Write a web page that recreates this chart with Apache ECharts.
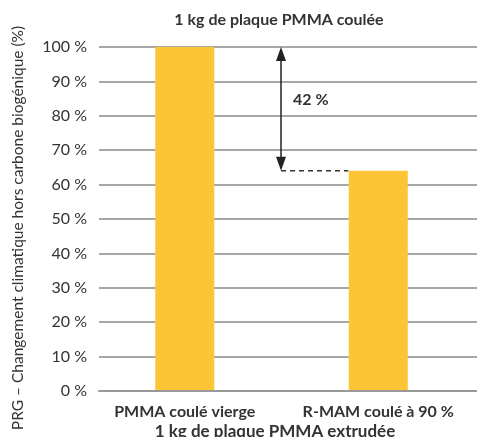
<!DOCTYPE html>
<html><head><meta charset="utf-8">
<script src="https://cdn.jsdelivr.net/npm/echarts@6/dist/echarts.min.js"></script>
<style>html,body{margin:0;padding:0;background:#fff}#c{width:477px;height:437px}</style>
</head><body><div id="c"></div>
<script>
const categories = ['PMMA coulé vierge', 'R-MAM coulé à 90 %'];
const values = [100, 64];
const tickValues = [0,10,20,30,40,50,60,70,80,90,100];
const diffLabel = '42 %';
const titleText = '1 kg de plaque PMMA coulée';
const bottomText = '1 kg de plaque PMMA extrudée';
const yName = 'PRG – Changement climatique hors carbone biogénique (%)';

const FONT = 'Lato';
const TXT = '#333333';
const chart = echarts.init(document.getElementById('c'), null, {renderer:'canvas'});
const gTop = 47, gBottom = 46;
chart.setOption({
  animation:false,
  textStyle:{fontFamily:FONT},
  title:{text:titleText,left:274,textAlign:'center',top:7,textStyle:{fontFamily:FONT,fontSize:16,fontWeight:'bold',color:TXT}},
  grid:[
    {left:99,right:-20,top:gTop,bottom:gBottom},
    {left:88,right:2,top:gTop,bottom:gBottom}
  ],
  xAxis:[
    {type:'category',gridIndex:0,data:categories,z:5,axisLine:{show:true,lineStyle:{color:'#999',width:2}},axisTick:{show:false},axisLabel:{show:false}},
    {type:'category',gridIndex:1,data:categories,z:20,axisLine:{show:false},axisTick:{show:false},
     axisLabel:{margin:13,fontFamily:FONT,fontSize:16,fontWeight:'bold',color:TXT,interval:0,
       backgroundColor:'#fff',padding:[0,4,2,4]}}
  ],
  yAxis:[
    {type:'value',gridIndex:0,min:0,max:100,interval:10,axisLine:{show:false},axisTick:{show:false},
     axisLabel:{margin:12,fontFamily:FONT,fontSize:16,color:TXT,formatter:v=>v+' %'},
     splitLine:{lineStyle:{color:'#8a8a8a',width:1.5}}},
    {type:'value',gridIndex:1,min:0,max:100,interval:10,show:false,splitLine:{show:false}}
  ],
  series:[{type:'bar',xAxisIndex:1,yAxisIndex:1,data:values,barWidth:59,itemStyle:{color:'#FDC436'},z:3}]
});

function drawAnn(){
  const p1 = chart.convertToPixel({xAxisIndex:1,yAxisIndex:1},[categories[0],values[0]]);
  const p2 = chart.convertToPixel({xAxisIndex:1,yAxisIndex:1},[categories[1],values[1]]);
  const ax = Math.round((p1[0]+p2[0])/2) - 1;
  const yTop = p1[1], yBot = p2[1];
  const yMid = chart.convertToPixel({yAxisIndex:1},(values[0]+values[1])/2 + 2.5);
  const ah = 14, aw = 5;
  chart.setOption({graphic:[
    {type:'line',shape:{x1:ax,y1:yTop+ah-2,x2:ax,y2:yBot-ah+2},style:{stroke:'#222',lineWidth:1.5},z:10},
    {type:'polygon',shape:{points:[[ax,yTop],[ax-aw,yTop+ah],[ax+aw,yTop+ah]]},style:{fill:'#222'},z:10},
    {type:'polygon',shape:{points:[[ax,yBot],[ax-aw,yBot-ah],[ax+aw,yBot-ah]]},style:{fill:'#222'},z:10},
    {type:'line',shape:{x1:ax,y1:yBot,x2:p2[0]-30,y2:yBot},style:{stroke:'#333',lineWidth:1.5,lineDash:[5,4]},z:10},
    {type:'text',x:ax+12,y:yMid,style:{text:diffLabel,font:'bold 16px '+FONT,fill:TXT,textVerticalAlign:'middle'},z:10},
    {type:'text',x:18,y:228,rotation:Math.PI/2,style:{text:yName,font:'15.5px '+FONT,fill:TXT,textAlign:'center',textVerticalAlign:'middle'},z:10},
    {type:'text',x:275,y:423,style:{text:bottomText,font:'bold 17px '+FONT,fill:TXT,textAlign:'center',textVerticalAlign:'top'},z:1},
    {type:'text',x:18,y:439,rotation:Math.PI/2,style:{text:')',font:'15px '+FONT,fill:TXT,textAlign:'center',textVerticalAlign:'middle'},z:10}
  ]});
}
drawAnn();
</script></body></html>
